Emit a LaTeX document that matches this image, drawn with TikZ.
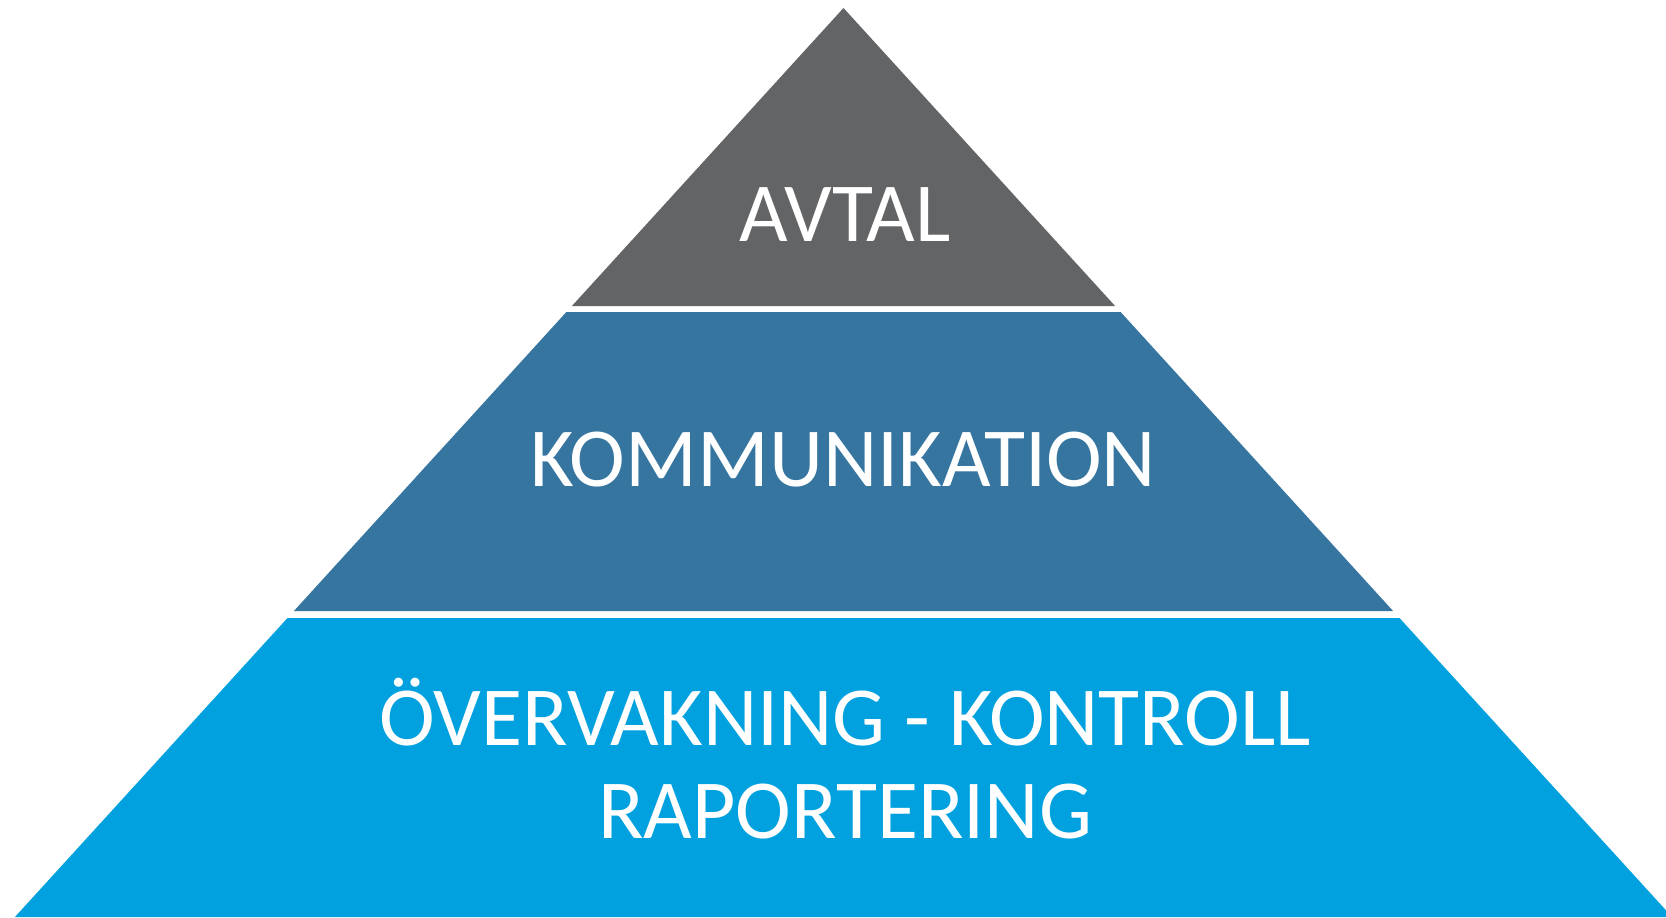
\documentclass[tikz,border=0pt]{standalone}
\usepackage{fontspec}
\setmainfont{Carlito}

\definecolor{avtalgray}{RGB}{99,100,102}
\definecolor{kommblue}{RGB}{53,117,159}
\definecolor{kontrollblue}{RGB}{0,161,222}

\tikzset{
  layertext/.style={text=white, font=\fontsize{42}{46.5}\selectfont, align=center, anchor=base, inner sep=0pt}
}

\begin{document}
\begin{tikzpicture}[x=0.5pt, y=-0.5pt]
      \useasboundingbox (0, 0) rectangle (1666, 917);
      \clip (0, 0) rectangle (1666, 917);

      \fill[avtalgray] (843.5, 8) -- (1115.1, 306) -- (571.9, 306) -- cycle;
      \fill[kommblue] (566.4, 312) -- (1120.6, 312) -- (1393.1, 611) -- (293.9, 611) -- cycle;
      \fill[kontrollblue] (287.5, 618) -- (1399.5, 618) -- (1672.1, 917) -- (14.9, 917) -- cycle;

      \node[layertext] (avtal) at (845, 241) {AVTAL};
      \node[layertext] (komm) at (843, 486) {KOMMUNIKATION};
      % base of a two-line node = last line
      \node[layertext] (kontroll) at (845, 838) {ÖVERVAKNING - KONTROLL\\RAPORTERING};
    \end{tikzpicture}
\end{document}
